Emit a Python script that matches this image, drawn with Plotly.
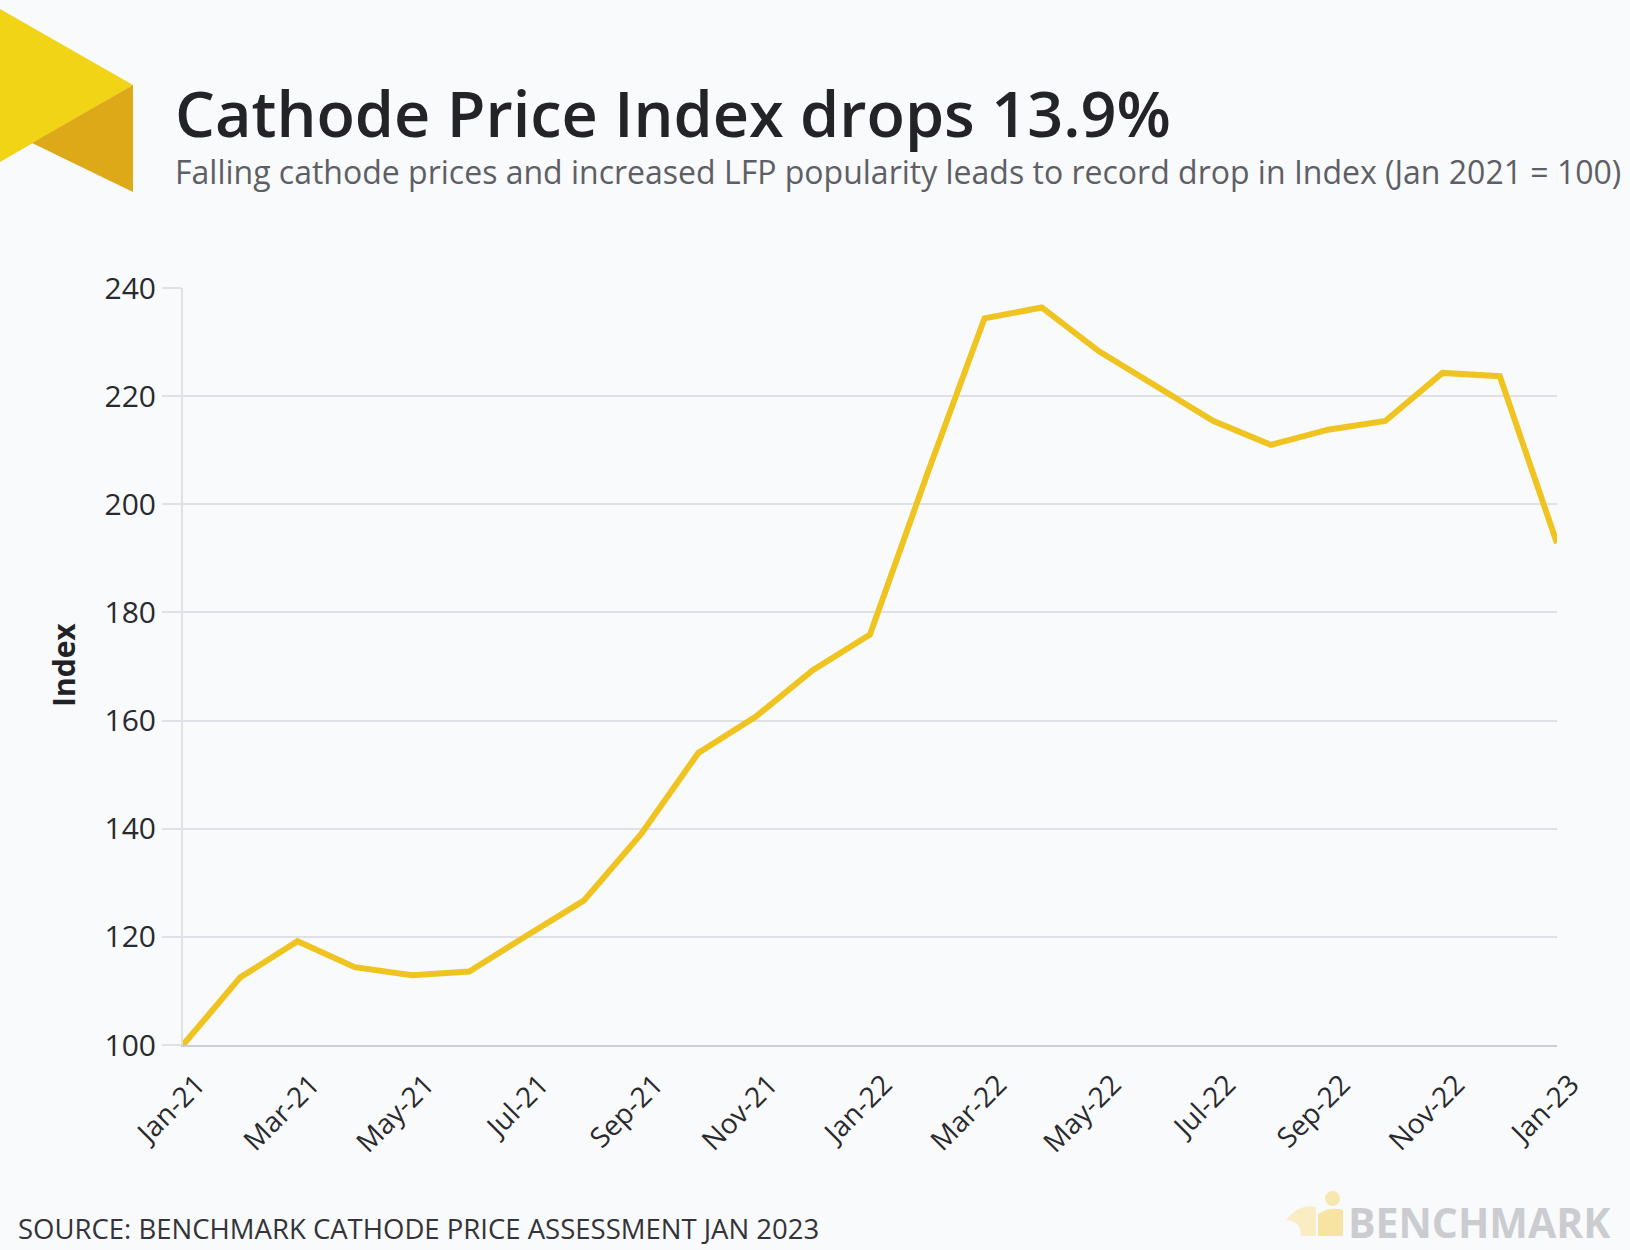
import plotly.graph_objects as go

# ---------------- data ----------------
months = ["Jan-21", "Feb-21", "Mar-21", "Apr-21", "May-21", "Jun-21", "Jul-21",
          "Aug-21", "Sep-21", "Oct-21", "Nov-21", "Dec-21", "Jan-22", "Feb-22",
          "Mar-22", "Apr-22", "May-22", "Jun-22", "Jul-22", "Aug-22", "Sep-22",
          "Oct-22", "Nov-22", "Dec-22", "Jan-23"]
index_values = [100.0, 112.5, 119.2, 114.4, 112.9, 113.6, 120.2, 126.7, 139.0,
                154.0, 160.7, 169.3, 175.9, 205.6, 234.4, 236.4, 228.3, 221.8,
                215.4, 211.0, 213.8, 215.4, 224.3, 223.7, 192.8]
tick_labels = months[::2]
y_ticks = [100, 120, 140, 160, 180, 200, 220, 240]

title_text = "Cathode Price Index drops 13.9%"
subtitle_text = ("Falling cathode prices and increased LFP popularity leads to "
                 "record drop in Index (Jan 2021 = 100)")
source_text = "SOURCE: BENCHMARK CATHODE PRICE ASSESSMENT JAN 2023"

# ---------------- layout geometry (pixels) ----------------
W, H = 1630, 1250
L, R, T, B = 183, 1557, 288, 1045
BG = "#F8FAFC"
GRID = "#E0E1E6"
FONT = "Open Sans"


def px(xp):
    return (xp - L) / (R - L)


def py(yp):
    return (B - yp) / (B - T)


fig = go.Figure()
fig.add_trace(go.Scatter(
    x=months, y=index_values, mode="lines",
    line=dict(color="#F0C420", width=6),
    hoverinfo="x+y", showlegend=False,
))

shapes = []
# top-left brand triangles
shapes.append(dict(type="path", xref="paper", yref="paper",
                   path=f"M {px(0)},{py(9)} L {px(133)},{py(85)} L {px(0)},{py(162)} Z",
                   fillcolor="#F2D416", line=dict(width=0), layer="above"))
shapes.append(dict(type="path", xref="paper", yref="paper",
                   path=f"M {px(133)},{py(85)} L {px(133)},{py(192)} L {px(32)},{py(143)} Z",
                   fillcolor="#DEA918", line=dict(width=0), layer="above"))
# faint benchmark icon bottom-right
shapes.append(dict(type="circle", xref="paper", yref="paper",
                   x0=px(1325), x1=px(1340), y0=py(1191), y1=py(1206),
                   fillcolor="#F8E7AE", line=dict(width=0)))
shapes.append(dict(type="path", xref="paper", yref="paper",
                   path=(f"M {px(1286)},{py(1220)} Q {px(1300)},{py(1203)} {px(1316)},{py(1207)} "
                         f"L {px(1316)},{py(1236)} L {px(1301)},{py(1236)} "
                         f"Q {px(1301)},{py(1221)} {px(1286)},{py(1220)} Z"),
                   fillcolor="#FAEDC4", line=dict(width=0)))
shapes.append(dict(type="path", xref="paper", yref="paper",
                   path=(f"M {px(1318)},{py(1236)} L {px(1318)},{py(1214)} "
                         f"Q {px(1330)},{py(1206)} {px(1343)},{py(1210)} "
                         f"L {px(1343)},{py(1236)} Z"),
                   fillcolor="#F7E3A2", line=dict(width=0)))

annotations = [
    dict(text=title_text, x=px(173), y=py(112), xref="paper", yref="paper",
         xanchor="left", yanchor="middle", showarrow=False,
         font=dict(family=FONT, size=63, color="#232328", weight=600)),
    dict(text=subtitle_text, x=px(173), y=py(172), xref="paper", yref="paper",
         xanchor="left", yanchor="middle", showarrow=False,
         font=dict(family=FONT, size=32, color="#5E5F66", weight=400)),
    dict(text="Index", x=px(63), y=py(665), xref="paper", yref="paper",
         xanchor="center", yanchor="middle", showarrow=False, textangle=-90,
         font=dict(family=FONT, size=30, color="#222226", weight=700)),
    dict(text=source_text, x=px(16), y=py(1228), xref="paper", yref="paper",
         xanchor="left", yanchor="middle", showarrow=False,
         font=dict(family=FONT, size=27.5, color="#333338", weight=400)),
    dict(text="BENCHMARK", x=px(1346), y=py(1222), xref="paper", yref="paper",
         xanchor="left", yanchor="middle", showarrow=False,
         font=dict(family=FONT, size=41, color="#CBCCD0", weight=700)),
]

fig.update_layout(
    width=W, height=H,
    margin=dict(l=L, r=W - R, t=T, b=H - B, pad=0),
    paper_bgcolor=BG, plot_bgcolor=BG,
    shapes=shapes, annotations=annotations,
    xaxis=dict(
        type="category", range=[0, len(months) - 1],
        tickvals=tick_labels, ticktext=tick_labels, tickangle=-45,
        showgrid=False, zeroline=False,
        showline=True, linecolor="#CDCED3", linewidth=2,
        ticks="", ticklabelstandoff=10, ticklabelshift=14,
        tickfont=dict(family=FONT, size=28, color="#2A2A2E"),
    ),
    yaxis=dict(
        range=[100, 240], tickvals=y_ticks,
        showgrid=True, gridcolor=GRID, gridwidth=2,
        zeroline=False,
        showline=True, linecolor=GRID, linewidth=2,
        ticks="outside", ticklen=19, tickcolor=GRID, tickwidth=2,
        ticklabelstandoff=0,
        tickfont=dict(family=FONT, size=30, color="#2A2A2E"),
    ),
)

fig.write_html("out.html")
